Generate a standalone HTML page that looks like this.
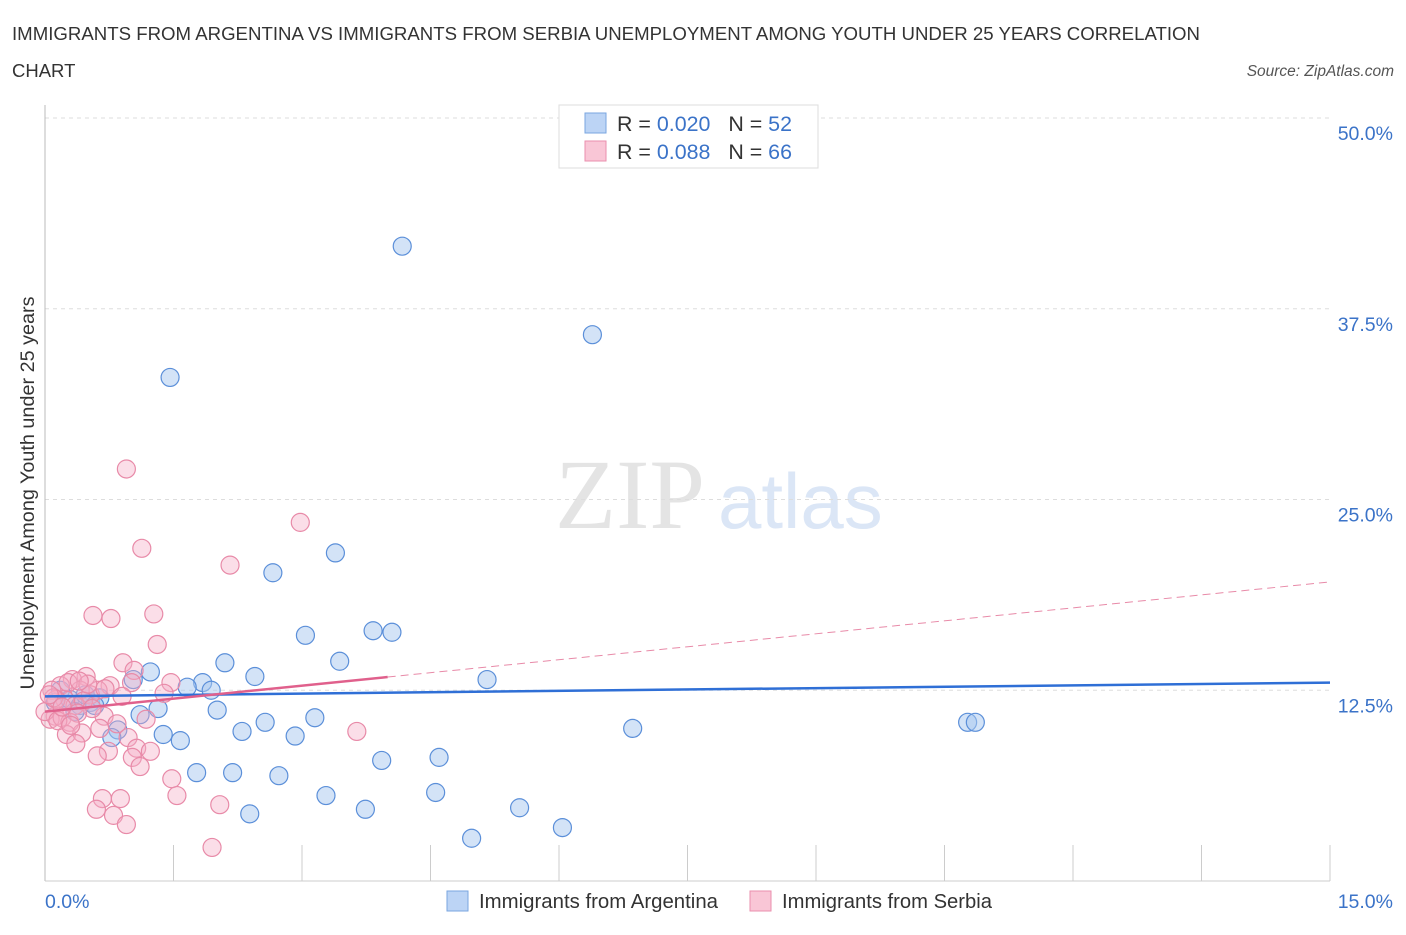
<!DOCTYPE html>
<html><head><meta charset="utf-8"><style>
body{margin:0;background:#fff;font-family:"Liberation Sans",sans-serif;}
svg text{font-family:"Liberation Sans",sans-serif;}
</style></head><body>
<svg id="chart" width="1406" height="930" xmlns="http://www.w3.org/2000/svg">
<text x="12" y="40" font-size="18.5" fill="#333" textLength="1188" lengthAdjust="spacingAndGlyphs">IMMIGRANTS FROM ARGENTINA VS IMMIGRANTS FROM SERBIA UNEMPLOYMENT AMONG YOUTH UNDER 25 YEARS CORRELATION</text>
<text x="12" y="77" font-size="18.5" fill="#333">CHART</text>
<text x="1394" y="76" font-size="15.5" fill="#555" font-style="italic" text-anchor="end">Source: ZipAtlas.com</text>
<text x="555" y="528" font-size="100" fill="#e4e4e4" style="font-family:'Liberation Serif',serif">ZIP</text>
<text x="718" y="528" font-size="78" fill="#dbe6f6">atlas</text>
<g id="grid"></g><g id="pts"></g><g id="lines"></g>
<text transform="translate(34,493) rotate(-90)" font-size="19" fill="#333" text-anchor="middle" textLength="393" lengthAdjust="spacingAndGlyphs">Unemployment Among Youth under 25 years</text>
<text x="45" y="908" font-size="19.5" fill="#3b73c8">0.0%</text>
<text x="1393" y="908" font-size="19.5" fill="#3b73c8" text-anchor="end">15.0%</text>
<g>
<rect x="559" y="105" width="259" height="63" fill="#fff" stroke="#ddd"/>
<rect x="585" y="113" width="21" height="20" fill="#bcd4f5" stroke="#7aa6e0"/>
<rect x="585" y="141" width="21" height="20" fill="#f9c6d6" stroke="#ea8fae"/>
<text x="617" y="131" font-size="21.5" fill="#333" textLength="175" lengthAdjust="spacingAndGlyphs">R = <tspan fill="#3b73c8">0.020</tspan><tspan dx="18">N = </tspan><tspan fill="#3b73c8">52</tspan></text>
<text x="617" y="159" font-size="21.5" fill="#333" textLength="175" lengthAdjust="spacingAndGlyphs">R = <tspan fill="#3b73c8">0.088</tspan><tspan dx="18">N = </tspan><tspan fill="#3b73c8">66</tspan></text>
</g>
<g>
<rect x="447" y="891" width="21" height="20" fill="#bcd4f5" stroke="#7aa6e0"/>
<text x="479" y="908" font-size="20" fill="#333" textLength="239" lengthAdjust="spacingAndGlyphs">Immigrants from Argentina</text>
<rect x="750" y="891" width="21" height="20" fill="#f9c6d6" stroke="#ea8fae"/>
<text x="782" y="908" font-size="20" fill="#333" textLength="210" lengthAdjust="spacingAndGlyphs">Immigrants from Serbia</text>
</g>
</svg>
<script>
const yTicks=[12.5,25,37.5,50];
const yTickLabels=["12.5%","25.0%","37.5%","50.0%"];
const xTicks=[0,1.5,3,4.5,6,7.5,9,10.5,12,13.5,15];
const argX=[4.17,6.39,1.46,3.39,2.66,3.04,3.83,4.05,3.44,2.10,1.23,2.45,1.03,5.16,1.84,1.66,1.94,1.32,2.01,1.11,3.15,2.57,10.77,10.86,6.86,2.30,2.92,1.38,1.58,0.85,0.78,3.93,4.60,1.77,2.19,2.73,3.28,4.56,3.74,5.54,2.39,6.04,4.98,0.12,0.18,0.29,0.41,0.53,0.64,0.35,0.47,0.58];
const argY=[41.6,35.8,33.0,21.5,20.2,16.1,16.4,16.3,14.4,14.3,13.7,13.4,13.2,13.2,13.0,12.7,12.5,11.3,11.2,10.9,10.7,10.4,10.4,10.4,10.0,9.8,9.5,9.6,9.2,9.9,9.4,7.9,8.1,7.1,7.1,6.9,5.6,5.8,4.7,4.8,4.4,3.5,2.8,11.7,12.5,11.9,11.5,11.7,12.0,11.1,12.2,11.5];
const serX=[0.95,2.98,1.13,2.16,0.56,0.77,1.27,1.31,0.91,1.04,1.47,1.01,1.39,0.76,0.48,0.32,0.18,0.08,0.62,0.41,0.53,0.23,0.35,0.12,0.06,0.20,0.29,0.69,0.84,0.64,0.25,0.43,0.36,0.97,1.07,0.74,1.23,0.61,1.02,1.11,1.48,1.54,0.67,0.88,0.60,0.80,0.95,2.04,1.95,3.64,0.13,0.0,0.10,0.27,0.45,0.55,0.70,0.15,0.38,0.50,0.30,0.05,0.20,0.90,1.18,0.40];
const serY=[27.0,23.5,21.8,20.7,17.4,17.2,17.5,15.5,14.3,13.8,13.0,13.0,12.3,12.8,13.4,13.2,12.8,12.5,12.5,12.5,12.2,11.9,11.5,10.8,10.6,10.7,10.4,10.8,10.3,10.0,9.6,9.7,9.0,9.4,8.7,8.5,8.5,8.2,8.1,7.5,6.7,5.6,5.4,5.4,4.7,4.3,3.7,5.0,2.2,9.8,11.9,11.1,12.0,13.0,11.8,11.3,12.6,10.5,11.0,12.9,10.2,12.2,11.4,12.1,10.6,13.1];
const argTrend=[12.1,13.0];
const serTrend=[11.1,19.6];
const serSolidEnd=4.0;
const NS="http://www.w3.org/2000/svg";
const X=v=>45+v/15*1285, Y=v=>881-v/50*763;
function mk(t,a,p){const e=document.createElementNS(NS,t);for(const k in a)e.setAttribute(k,a[k]);p.appendChild(e);return e;}
const g=document.getElementById('grid');
yTicks.forEach((t,i)=>{
 const l=mk('line',{x1:45,x2:1330,y1:Y(t),y2:Y(t),stroke:'#ddd','stroke-dasharray':'4,4'},g);
 
 
 const tx=mk('text',{x:1393,y:Y(t)+22,'font-size':19.5,fill:'#3b73c8','text-anchor':'end'},g);
 tx.textContent=yTickLabels[i];
 
 
});
xTicks.forEach(t=>{
 const l=mk('line',{x1:X(t),x2:X(t),y1:845,y2:881,stroke:'#ccc'},g);
 
 
});
const ax=mk('line',{x1:45,x2:45,y1:105,y2:881,stroke:'#bbb'},g);


const bx=mk('line',{x1:45,x2:1330,y1:881,y2:881,stroke:'#ccc'},g);


const p=document.getElementById('pts');
argX.forEach((v,i)=>{const c=mk('circle',{cx:X(v),cy:Y(argY[i]),r:9,fill:'rgba(168,199,240,0.5)',stroke:'#5b8fd9','stroke-width':1.2},p);
 
 });
serX.forEach((v,i)=>{const c=mk('circle',{cx:X(v),cy:Y(serY[i]),r:9,fill:'rgba(246,172,197,0.4)',stroke:'#e88aa8','stroke-width':1.2},p);
 
 });
const L=document.getElementById('lines');
const a=mk('line',{x1:X(0),y1:Y(argTrend[0]),x2:X(15),y2:Y(argTrend[1]),stroke:'#2f6fd6','stroke-width':2.5},L);


const sAt=x=>serTrend[0]+(serTrend[1]-serTrend[0])*x/15;
const s1=mk('line',{x1:X(0),y1:Y(serTrend[0]),x2:X(serSolidEnd),y2:Y(sAt(serSolidEnd)),stroke:'#e0608c','stroke-width':2.5},L);


const s2=mk('line',{x1:X(serSolidEnd),y1:Y(sAt(serSolidEnd)),x2:X(15),y2:Y(serTrend[1]),stroke:'#e88aa8','stroke-width':1,'stroke-dasharray':'8,5'},L);


</script>
</body></html>
